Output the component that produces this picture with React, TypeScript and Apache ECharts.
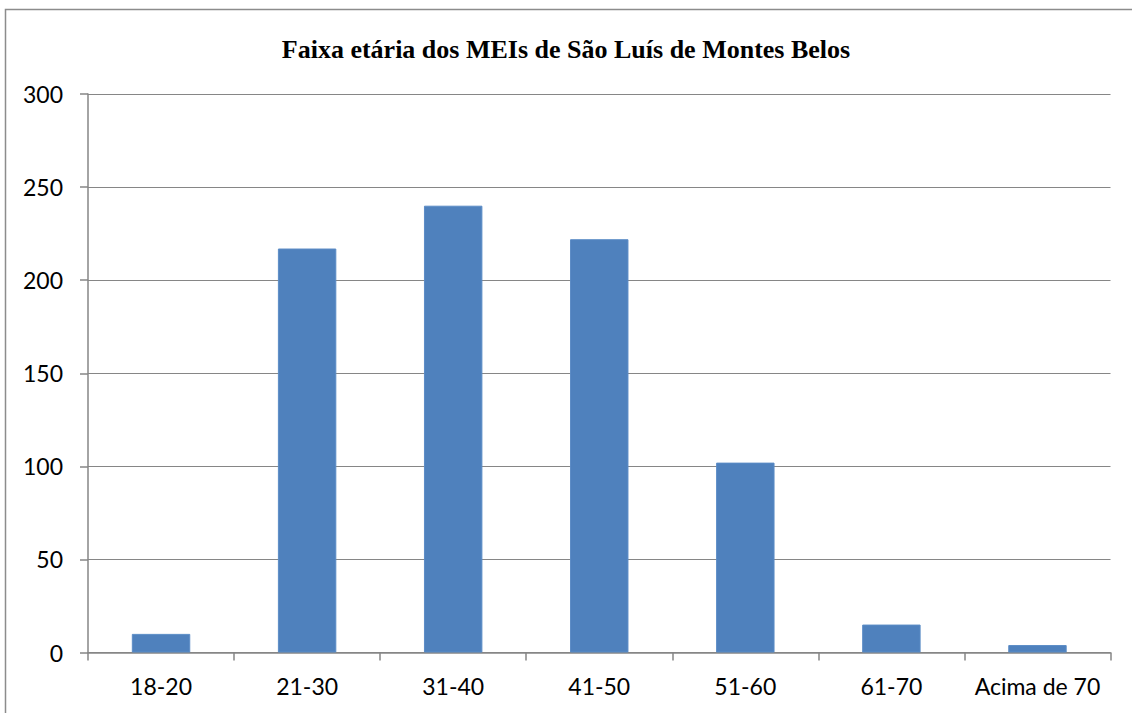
import React, { useEffect, useRef } from "react";
import * as echarts from "echarts";

const categories = ["18-20", "21-30", "31-40", "41-50", "51-60", "61-70", "Acima de 70"];
const counts = [10, 217, 240, 222, 102, 15, 4];
const yTicks = { min: 0, max: 300, interval: 50 };
const titleText = "Faixa etária dos MEIs de São Luís de Montes Belos";

export default function App() {
  const ref = useRef<HTMLDivElement>(null);

  useEffect(() => {
    if (!ref.current) return;
    const chart = echarts.init(ref.current, null, { renderer: "svg" });
    const axisGray = "#868686";
    const labelFont = "Lato, 'Open Sans', sans-serif";
    chart.setOption({
      animation: false,
      backgroundColor: "#ffffff",
      title: {
        text: titleText,
        left: "center",
        top: 31,
        textStyle: {
          fontFamily: "'Liberation Serif', 'Times New Roman', serif",
          fontWeight: "bold",
          fontSize: 26,
          color: "#000000",
        },
      },
      graphic: [
        {
          type: "rect",
          shape: { x: 5.5, y: 9.5, width: 1140, height: 720 },
          style: { fill: "none", stroke: "#8c8c8c", lineWidth: 1.5 },
          silent: true,
        },
      ],
      grid: { left: 88, right: 21.5, top: 94, bottom: 60.5 },
      xAxis: {
        type: "category",
        data: categories,
        boundaryGap: true,
        axisLine: { show: true, lineStyle: { color: axisGray, width: 1.5 } },
        axisTick: { show: true, interval: 0, length: 8, lineStyle: { color: axisGray, width: 1.5 } },
        axisLabel: {
          interval: 0,
          hideOverlap: false,
          margin: 22,
          fontFamily: labelFont,
          fontSize: 23,
          color: "#000000",
        },
        splitLine: { show: false },
      },
      yAxis: {
        type: "value",
        min: yTicks.min,
        max: yTicks.max,
        interval: yTicks.interval,
        axisLine: { show: true, lineStyle: { color: axisGray, width: 1.5 } },
        axisTick: { show: true, length: 8, lineStyle: { color: axisGray, width: 1.5 } },
        axisLabel: {
          margin: 25,
          fontFamily: labelFont,
          fontSize: 23,
          color: "#000000",
        },
        splitLine: { show: true, lineStyle: { color: axisGray, width: 1.2 } },
      },
      series: [
        {
          type: "bar",
          data: counts,
          barCategoryGap: "60%",
          itemStyle: { color: "#4F81BD", borderColor: "#5b8cc6", borderWidth: 1 },
        },
      ],
    });
    return () => chart.dispose();
  }, []);

  return (
    <div
      ref={ref}
      style={{ position: "fixed", left: 0, top: 0, width: 1132, height: 713 }}
    />
  );
}
